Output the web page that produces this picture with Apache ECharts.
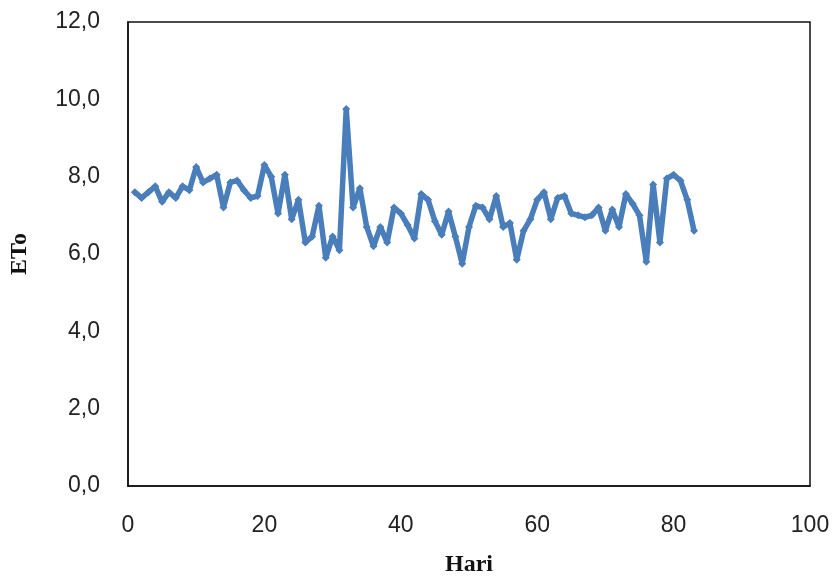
<!DOCTYPE html>
<html>
<head>
<meta charset="utf-8">
<script src="https://cdn.jsdelivr.net/npm/echarts@6/dist/echarts.min.js"></script>
<style>html,body{margin:0;padding:0;background:#fff}#c{width:834px;height:585px}</style>
</head>
<body>
<div id="c"></div>
<script>
const days = [];
for (let d = 1; d <= 83; d++) days.push(d);
const eto = [
  7.6, 7.45, 7.6, 7.75, 7.35, 7.6, 7.45, 7.75, 7.65, 8.25,
  7.85, 7.95, 8.05, 7.2, 7.85, 7.9, 7.65, 7.45, 7.5, 8.3,
  8.0, 7.05, 8.05, 6.9, 7.4, 6.3, 6.45, 7.25, 5.9, 6.45,
  6.1, 9.75, 7.2, 7.7, 6.7, 6.2, 6.7, 6.3, 7.2, 7.05,
  6.75, 6.4, 7.55, 7.4, 6.85, 6.5, 7.1, 6.45, 5.75, 6.7,
  7.25, 7.2, 6.9, 7.5, 6.7, 6.8, 5.85, 6.6, 6.9, 7.4,
  7.6, 6.9, 7.45, 7.5, 7.05, 7.0, 6.95, 7.0, 7.2, 6.6,
  7.15, 6.7, 7.55, 7.3, 7.0, 5.8, 7.8, 6.3, 7.95, 8.05,
  7.9, 7.4, 6.6
];
const xTicks = [0, 20, 40, 60, 80, 100];
const yTicks = [0, 2, 4, 6, 8, 10, 12];

const chart = echarts.init(document.getElementById('c'), null, {renderer: 'canvas'});
const labelFont = {fontFamily: '"Liberation Sans Narrow","Liberation Sans",sans-serif', fontSize: 23, color: '#222'};
chart.setOption({
  animation: false,
  backgroundColor: '#fff',
  grid: {left: 125, right: 24, top: 22, bottom: 99, show: true, borderColor: '#111', borderWidth: 1.5, backgroundColor: '#fff'},
  xAxis: {
    type: 'value', min: xTicks[0], max: xTicks[xTicks.length - 1], interval: 20,
    name: 'Hari', nameLocation: 'middle', nameGap: 67,
    nameTextStyle: {fontFamily: '"Liberation Serif",serif', fontWeight: 'bold', fontSize: 24, color: '#111'},
    axisLine: {show: true, lineStyle: {color: '#111', width: 1.5}},
    axisTick: {show: false},
    splitLine: {show: false},
    axisLabel: Object.assign({margin: 28}, labelFont)
  },
  yAxis: {
    type: 'value', min: yTicks[0], max: yTicks[yTicks.length - 1], interval: 2,
    name: 'ETo', nameLocation: 'middle', nameGap: 96, nameRotate: 90,
    nameTextStyle: {fontFamily: '"Liberation Serif",serif', fontWeight: 'bold', fontSize: 24, color: '#111'},
    axisLine: {show: true, lineStyle: {color: '#111', width: 1.5}},
    axisTick: {show: false},
    splitLine: {show: false},
    axisLabel: Object.assign({margin: 28, formatter: v => v.toFixed(1).replace('.', ',')}, labelFont)
  },
  series: [{
    type: 'line',
    data: days.map((d, i) => [d, eto[i]]),
    symbol: 'diamond', symbolSize: 8, showSymbol: true,
    lineStyle: {color: '#4A7EBB', width: 5.5},
    itemStyle: {color: '#4A7EBB'}
  }]
});
</script>
</body>
</html>
